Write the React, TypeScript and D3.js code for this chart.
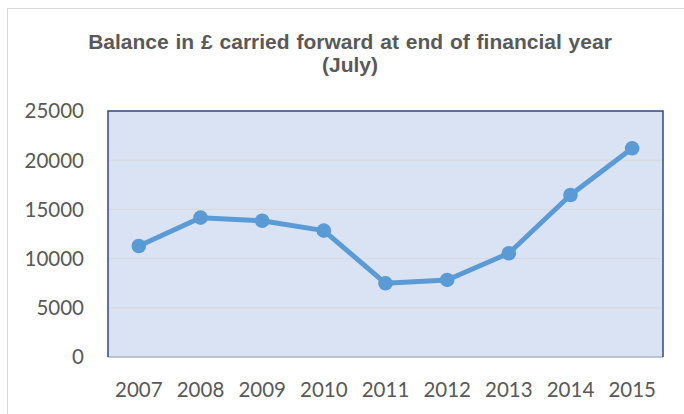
import React from "react";
import * as d3 from "d3";

const years = ["2007", "2008", "2009", "2010", "2011", "2012", "2013", "2014", "2015"];
const balances = [11280, 14160, 13850, 12840, 7490, 7830, 10540, 16460, 21210];
const yTicks = [0, 5000, 10000, 15000, 20000, 25000];
const titleLines = ["Balance in £ carried forward at end of financial year", "(July)"];

const W = 684;
const H = 414;
const plot = { left: 108, top: 111, right: 663, bottom: 357 };

export default function App() {
  const x = d3
    .scaleBand<string>()
    .domain(years)
    .range([plot.left, plot.right])
    .padding(0);
  const y = d3.scaleLinear().domain([0, 25000]).range([plot.bottom, plot.top]);
  const cx = (yr: string) => (x(yr) ?? 0) + x.bandwidth() / 2;

  const pts = years.map((yr, i) => [cx(yr), y(balances[i])] as [number, number]);
  const line = d3.line<[number, number]>()(pts) ?? "";

  const labelFont = "Lato, 'Open Sans', sans-serif";
  const textColor = "#595959";

  return (
    <svg
      width={W}
      height={H}
      style={{ position: "absolute", left: 0, top: 0, background: "#fff" }}
    >
      <rect x={7.5} y={8.5} width={W + 20} height={H + 20} fill="#fff" stroke="#d9d9d9" strokeWidth={1} />
      {titleLines.map((t, i) => (
        <text
          key={i}
          x={350}
          y={49 + i * 23}
          textAnchor="middle"
          fontFamily="'Liberation Sans', Arial, sans-serif"
          fontWeight="bold"
          fontSize={21}
          wordSpacing={1}
          fill={textColor}
        >
          {t}
        </text>
      ))}
      <rect
        x={plot.left}
        y={plot.top}
        width={plot.right - plot.left}
        height={plot.bottom - plot.top}
        fill="#dae3f3"
      />
      {yTicks
        .filter((v) => v > 0 && v < 25000)
        .map((v) => (
          <line
            key={v}
            x1={plot.left}
            x2={plot.right}
            y1={y(v)}
            y2={y(v)}
            stroke="#d9d9d9"
            strokeWidth={1}
          />
        ))}
      <line x1={plot.left} x2={plot.right} y1={plot.bottom} y2={plot.bottom} stroke="#a9b4c6" strokeWidth={1.5} />
      <path
        d={`M${plot.left},${plot.bottom} V${plot.top} H${plot.right} V${plot.bottom}`}
        fill="none"
        stroke="#2f4a82"
        strokeWidth={1.5}
      />
      <path d={line} fill="none" stroke="#5b9bd5" strokeWidth={5} strokeLinejoin="round" strokeLinecap="round" />
      {pts.map((p, i) => (
        <circle key={i} cx={p[0]} cy={p[1]} r={7.3} fill="#5b9bd5" />
      ))}
      {yTicks.map((v) => (
        <text
          key={v}
          x={84}
          y={y(v)}
          dy="0.36em"
          textAnchor="end"
          fontFamily={labelFont}
          fontSize={20.5}
          fill={textColor}
        >
          {v}
        </text>
      ))}
      {years.map((yr) => (
        <text
          key={yr}
          x={cx(yr)}
          y={397}
          textAnchor="middle"
          fontFamily={labelFont}
          fontSize={20.5}
          fill={textColor}
        >
          {yr}
        </text>
      ))}
    </svg>
  );
}
